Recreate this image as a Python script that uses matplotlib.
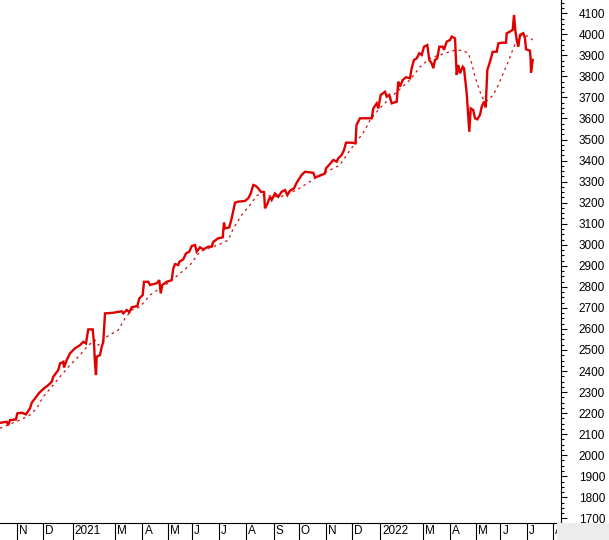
import matplotlib
matplotlib.use("Agg")
import matplotlib.pyplot as plt
from matplotlib.patches import Rectangle

plt.rcParams['font.family'] = ['Liberation Sans', 'DejaVu Sans']

# Session positions (x) and index closes (main line)
close_x = [0, 6.7, 8.3, 10, 16, 17.3, 21.7, 26, 30, 31.7, 35, 39.3, 44, 48.3, 51.7, 53.3,
           58.3, 60, 63.3, 64, 66.7, 70, 75, 80, 83.3, 86, 87.3, 88.3, 92.7, 94, 95, 96,
           96.7, 100, 101.7, 103.3, 105, 113.3, 121.7, 123.3, 126.7, 129.3, 131.7, 137.3,
           139.3, 142.7, 144, 148.3, 150, 156.7, 159.3, 160.7, 162.3, 166.7, 171.7,
           173.3, 175, 178.3, 179.3, 183.3, 186, 189.3, 191.7, 195, 196.7, 200, 203.3,
           208.3, 211.7, 213.3, 218.3, 222.7, 224, 225, 229.3, 231.7, 235, 238.3, 245,
           248.3, 250.7, 253.3, 256, 258.3, 260.7, 264, 265, 267.3, 270, 271.7, 275,
           278.3, 281.7, 285, 287.3, 290, 294, 296.7, 301.7, 305, 313.3, 315, 319.3, 325,
           326, 330, 333.3, 336.7, 338.3, 341.7, 344, 346, 351.7, 355.5, 356.5, 360, 365,
           371.7, 373.3, 376.7, 378.3, 380.7, 385, 386.7, 389.3, 391.7, 396.7, 398.3, 400,
           402.7, 406, 410, 411.7, 414, 416.7, 419.3, 421.7, 424, 427.3, 429.3, 431.7,
           433.3, 435, 437.3, 439.3, 442.7, 444, 446.7, 450, 451.7, 455, 456.7, 458.3, 460,
           462.7, 464, 466.7, 469.3, 470.7, 473.3, 475, 477.3, 480, 481.7, 484, 485.7,
           487.3, 490, 492.7, 496.7, 498.3, 501.7, 506, 506.7, 510, 512.7, 514, 515.3,
           516.7, 518.3, 520, 523.3, 525, 526, 530, 530.7, 531, 532.7]
close_v = [2154, 2159, 2143, 2167, 2170, 2199, 2202, 2194, 2223, 2249, 2270, 2297, 2318,
           2333, 2349, 2373, 2405, 2436, 2444, 2417, 2452, 2484, 2508, 2523, 2539, 2531,
           2571, 2598, 2598, 2531, 2436, 2381, 2468, 2476, 2515, 2539, 2674, 2677, 2684,
           2674, 2690, 2679, 2703, 2709, 2745, 2761, 2824, 2824, 2809, 2817, 2832, 2769,
           2809, 2824, 2832,
           2888, 2908, 2904, 2919, 2931, 2959, 2967, 2994, 2999, 2967, 2988, 2978, 2991,
           2991, 3014, 3031, 3035, 3105, 3078, 3083, 3126, 3200, 3205, 3208, 3221, 3244,
           3284, 3279, 3268, 3252, 3251, 3173, 3194, 3228, 3213, 3244, 3228, 3252, 3260,
           3236, 3257, 3268, 3295, 3332, 3347, 3342, 3320, 3327, 3339, 3363, 3384, 3403,
           3395, 3411, 3427, 3450, 3485, 3485, 3482, 3569, 3601, 3601, 3601, 3648, 3672,
           3648, 3712, 3727, 3704, 3712, 3672, 3680, 3775, 3751, 3783, 3796, 3791, 3839,
           3878, 3886, 3910, 3902, 3941, 3949, 3878, 3862, 3839, 3878, 3886, 3941, 3941,
           3926, 3965, 3973, 3989, 3981, 3807, 3854, 3815, 3846, 3839, 3720, 3537, 3648,
           3640, 3601, 3596, 3617, 3656, 3680, 3653, 3830, 3870, 3917, 3917, 3957, 3960,
           3960, 4005, 4013, 4021, 4092, 4021, 3973, 3941, 3997, 4005, 3981, 3929, 3922,
           3878, 3818, 3878]

# Moving average (dotted)
ma_x = [0, 10, 20, 30, 36.7, 43.3, 51.7, 60, 70, 80, 88.3, 95, 98.3, 106.7, 118.3, 125,
        131.7, 140, 150, 160, 170, 180, 190, 200, 210, 220, 228.3, 233.3, 241.7, 250,
        257.3, 263, 280, 290, 300, 310, 320, 330, 340, 350, 358, 365, 370, 380, 390, 400,
        410, 420, 430, 440, 450, 456.7, 463.3, 468.3, 471.7, 475, 478.3, 481.7, 485,
        488.3, 493.3, 498.3, 503.3, 508.3, 513.3, 518.3, 523.3, 528.3, 532.7]
ma_v = [2128, 2148, 2167, 2191, 2223, 2278, 2325, 2373, 2428, 2476, 2523, 2547, 2523,
        2563, 2595, 2650, 2690, 2705, 2761, 2793, 2824, 2864, 2904, 2967, 2986, 3003,
        3022, 3078, 3141, 3189, 3236, 3236, 3227, 3246, 3270, 3300, 3332, 3355, 3379,
        3450, 3498, 3545, 3593, 3650, 3697, 3740, 3783, 3845, 3886, 3902, 3918, 3926,
        3922, 3910, 3862, 3799, 3751, 3704, 3680, 3688, 3712, 3759, 3815, 3870, 3934,
        3989, 3997, 3989, 3973]

# Month boundaries (session positions) and labels
month_pos = [17.3, 43.3, 72.7, 115, 142.5, 168, 192, 219, 246, 274, 299, 326, 352, 380,
             423, 450, 476.5, 500.5, 526.7, 553.3]
month_lab = ['N', 'D', '2021', 'M', 'A', 'M', 'J', 'J', 'A', 'S', 'O', 'N', 'D', '2022',
             'M', 'A', 'M', 'J', 'J', 'A']

y_ticks = list(range(1700, 4101, 100))

W, H = 609, 540
fig = plt.figure(figsize=(W / 100, H / 100), dpi=100)
ax = fig.add_axes([0, 17 / H, 561 / W, 523 / H])

ax.plot(ma_x, ma_v, color='#d01010', lw=0.9, dashes=(2, 3), zorder=2)
ax.plot(close_x, close_v, color='#e00000', lw=1.7, zorder=3, solid_joinstyle='miter')

ax.set_xlim(0, 561)
ax.set_ylim(1678, 4163)

for s in ['left', 'top']:
    ax.spines[s].set_visible(False)
ax.spines['right'].set_color('black')
ax.spines['bottom'].set_color('black')
ax.spines['right'].set_linewidth(0.8)
ax.spines['bottom'].set_linewidth(0.8)

ax.yaxis.tick_right()
ax.set_yticks(y_ticks)
ax.set_yticklabels([str(v) for v in y_ticks])
ax.set_yticks(list(range(1700, 4151, 25)), minor=True)
ax.tick_params(axis='y', which='major', direction='out', length=4.3, width=0.8,
               pad=8.6, labelsize=8.5, colors='black')
ax.tick_params(axis='y', which='minor', direction='out', length=2.2, width=0.8)
ax.set_xticks([])

# month label row
sep_h = 17 / 523
ax.vlines(month_pos, -sep_h, 0, transform=ax.get_xaxis_transform(), colors='black',
          lw=0.8, clip_on=False)
for p, lab in zip(month_pos, month_lab):
    ax.annotate(lab, xy=(p, 0), xycoords=('data', 'axes fraction'), xytext=(2, -8.5),
                textcoords='offset pixels', ha='left', va='center', fontsize=8.5,
                color='black', annotation_clip=False)

fig.patches.append(Rectangle((557 / W, 0), 1 - 557 / W, 17 / H, transform=fig.transFigure,
                             facecolor='#ececec', edgecolor='none', zorder=10))

fig.savefig('out.png', dpi=100)
